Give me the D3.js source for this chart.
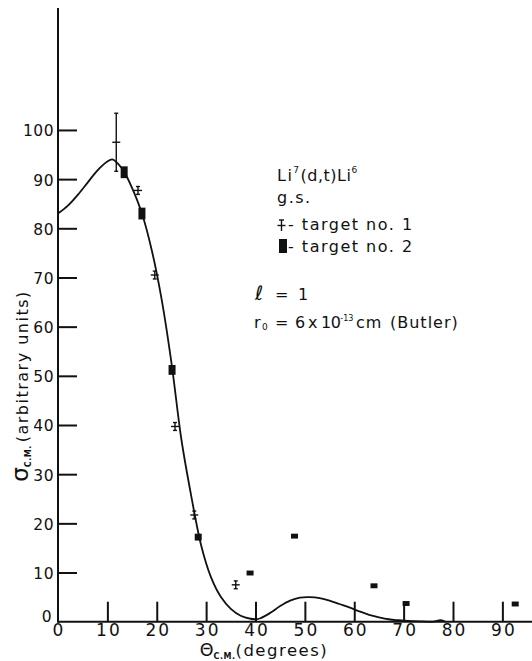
<!DOCTYPE html>
<html>
<head>
<meta charset="utf-8">
<script src="https://cdn.jsdelivr.net/npm/d3@7"></script>
<style>
  body { margin: 0; background: #fff; }
  svg { display: block; }
  text { font-family: "DejaVu Sans", sans-serif; fill: #111; }
  .axis path, .axis line { stroke: #111; stroke-width: 2; }
  .axis text { font-family: "DejaVu Sans", sans-serif; fill: #111; }
</style>
</head>
<body>
<svg width="532" height="661"></svg>
<script>
// fitted curve (Butler, l = 1)
const curveTheta = [0, 2, 4, 6, 8, 10, 11, 12, 13.5, 15, 17, 19, 21, 23, 25, 27, 29, 31, 33, 35, 37, 39, 40, 41, 43, 45, 47, 49, 51, 53, 55, 57, 59, 61, 63, 65, 67, 69, 71, 74, 76, 77.5, 78.5];
const curveSigma = [83, 84.6, 86.8, 89.3, 91.8, 93.6, 94, 93.3, 91.3, 88.2, 83, 75.5, 65.5, 52.5, 37, 25.5, 15.5, 9, 5, 2.6, 1.2, 0.6, 0.5, 0.7, 1.8, 3.2, 4.3, 4.9, 5, 4.8, 4.3, 3.6, 2.9, 2.1, 1.4, 0.9, 0.5, 0.3, 0.15, 0.05, 0, 0.3, 0];

// target no. 1 (crosses)
const t1Theta = [11.8, 16.2, 19.6, 23.7, 27.6, 36.0];
const t1Sigma = [97.5, 87.7, 70.5, 39.7, 21.7, 7.5];
const t1Err = [5.9, 0.8, 0.8, 0.8, 0.8, 0.8];

// target no. 2 (squares)
const t2Theta = [13.4, 17.0, 23.1, 28.4, 38.9, 47.9, 64.0, 70.5, 92.6];
const t2Sigma = [91.4, 83.0, 51.2, 17.2, 9.9, 17.4, 7.3, 3.7, 3.6];
const t2Err = [1.2, 1.2, 1.0, 0.7, 0.5, 0.5, 0.5, 0.5, 0.5];

const xTicks = [0, 10, 20, 30, 40, 50, 60, 70, 80, 90];
const yTicks = [0, 10, 20, 30, 40, 50, 60, 70, 80, 90, 100];

const svg = d3.select('svg');
const width = +svg.attr('width');
const height = +svg.attr('height');
const margin = {top: 8, right: 0, bottom: 39.3, left: 58};

const xScale = d3.scaleLinear()
  .domain([0, 96])
  .range([margin.left, width - margin.right]);

const yScale = d3.scaleLinear()
  .domain([0, 124.8])
  .range([height - margin.bottom, margin.top]);

//axes
const xAxis = svg.append('g')
  .attr('class', 'axis')
  .attr('transform', `translate(0, ${yScale(0)})`)
  .call(d3.axisBottom(xScale).tickValues(xTicks).tickFormat(d3.format('d'))
    .tickSizeInner(-20).tickSizeOuter(0).tickPadding(2));
xAxis.selectAll('text')
  .attr('font-size', 17)
  .attr('letter-spacing', 2)
  .attr('dx', 1);

const yAxis = svg.append('g')
  .attr('class', 'axis')
  .attr('transform', `translate(${xScale(0)}, 0)`)
  .call(d3.axisLeft(yScale).tickValues(yTicks).tickFormat(d3.format('d'))
    .tickSizeInner(-19).tickSizeOuter(0).tickPadding(4));
yAxis.selectAll('text')
  .attr('font-size', 15.5)
  .attr('letter-spacing', 0.5)
  .attr('dy', '0.38em');

//no tick marks at zero
xAxis.selectAll('.tick').filter(d => d === 0).select('line').remove();
yAxis.selectAll('.tick').filter(d => d === 0).select('line').remove();
yAxis.selectAll('.tick').filter(d => d === 0).select('text').attr('dy', '0em').attr('x', -6);
xAxis.selectAll('.tick').filter(d => d === 0).select('text').attr('dx', 0.5);
xAxis.select('.domain').attr('d', `M${xScale(0)},0H${width}`);
yAxis.select('.domain').attr('d', `M0,${yScale(0) + 1}V${margin.top}`);

//curve
const curve = curveTheta.map((t, i) => [t, curveSigma[i]]);
svg.append('path')
  .datum(curve)
  .attr('fill', 'none')
  .attr('stroke', '#111')
  .attr('stroke-width', 1.8)
  .attr('d', d3.line()
    .x(d => xScale(d[0]))
    .y(d => yScale(d[1]))
    .curve(d3.curveCatmullRom.alpha(0.5)));

//target no. 1 crosses
const t1 = t1Theta.map((t, i) => ({t: t, s: t1Sigma[i], e: t1Err[i]}));
const crosses = svg.append('g')
  .attr('stroke', '#111')
  .attr('stroke-width', 1.4)
  .selectAll('g')
  .data(t1)
  .enter()
  .append('g');
crosses.append('line')
  .attr('x1', d => xScale(d.t) - 4)
  .attr('x2', d => xScale(d.t) + 4)
  .attr('y1', d => yScale(d.s))
  .attr('y2', d => yScale(d.s));
crosses.append('line')
  .attr('x1', d => xScale(d.t))
  .attr('x2', d => xScale(d.t))
  .attr('y1', d => yScale(d.s + d.e))
  .attr('y2', d => yScale(d.s - d.e));
crosses.append('line')
  .attr('x1', d => xScale(d.t) - 2)
  .attr('x2', d => xScale(d.t) + 2)
  .attr('y1', d => yScale(d.s + d.e))
  .attr('y2', d => yScale(d.s + d.e));
crosses.append('line')
  .attr('x1', d => xScale(d.t) - 2)
  .attr('x2', d => xScale(d.t) + 2)
  .attr('y1', d => yScale(d.s - d.e))
  .attr('y2', d => yScale(d.s - d.e));

//target no. 2 squares
svg.append('g')
  .selectAll('rect')
  .data(t2Theta.map((t, i) => ({t: t, s: t2Sigma[i], e: t2Err[i]})))
  .enter()
  .append('rect')
    .attr('x', d => xScale(d.t) - 3.5)
    .attr('y', d => yScale(d.s + d.e))
    .attr('width', 7)
    .attr('height', d => yScale(d.s - d.e) - yScale(d.s + d.e))
    .attr('fill', '#111');

//axis titles
const yTitle = svg.append('text')
  .attr('transform', `translate(28, ${386}) rotate(-90)`)
  .attr('text-anchor', 'middle')
  .attr('font-size', 16)
  .attr('letter-spacing', 1.5);
yTitle.append('tspan').attr('font-size', 23).attr('letter-spacing', 0).text('σ');
yTitle.append('tspan').attr('font-size', 8).attr('font-weight', 'bold').attr('letter-spacing', 0.5).attr('dy', 3).text('C.M.');
yTitle.append('tspan').attr('dy', -3).attr('dx', 3).text('(arbitrary units)');

const xTitle = svg.append('text')
  .attr('x', 264)
  .attr('y', 656)
  .attr('text-anchor', 'middle')
  .attr('font-size', 16.5)
  .attr('letter-spacing', 1.5);
xTitle.append('tspan').attr('font-size', 17.5).attr('letter-spacing', 0).text('Θ');
xTitle.append('tspan').attr('font-size', 8).attr('font-weight', 'bold').attr('letter-spacing', 0.5).attr('dy', 3).text('C.M.');
xTitle.append('tspan').attr('dy', -3).text('(degrees)');

//legend / annotation
const note = svg.append('g').attr('font-size', 16).attr('letter-spacing', 1.5);

const line1 = note.append('text').attr('x', 277).attr('y', 181);
line1.append('tspan').text('Li');
line1.append('tspan').attr('font-size', 9).attr('dy', -8).text('7');
line1.append('tspan').attr('dy', 8).attr('letter-spacing', 0.5).text('(d,t)Li');
line1.append('tspan').attr('font-size', 9).attr('dy', -8).text('6');

note.append('text').attr('x', 277).attr('y', 203).text('g.s.');

//legend cross
const lx = 281.5, ly = 225.5;
const lc = note.append('g').attr('stroke', '#111').attr('stroke-width', 1.4);
lc.append('line').attr('x1', lx - 4).attr('x2', lx + 4).attr('y1', ly).attr('y2', ly);
lc.append('line').attr('x1', lx).attr('x2', lx).attr('y1', ly - 5.5).attr('y2', ly + 5.5);
lc.append('line').attr('x1', lx - 2.5).attr('x2', lx + 2.5).attr('y1', ly - 5.5).attr('y2', ly - 5.5);
note.append('text').attr('x', 288).attr('y', 230).text('- target no. 1');

note.append('rect').attr('x', 279).attr('y', 239).attr('width', 8).attr('height', 14).attr('fill', '#111');
note.append('text').attr('x', 288).attr('y', 252).text('- target no. 2');

const ell = note.append('text').attr('x', 255).attr('y', 300);
ell.append('tspan').attr('font-style', 'italic').attr('font-size', 20).text('ℓ');
ell.append('tspan').attr('x', 275).text('=');
ell.append('tspan').attr('x', 298).text('1');

const r0 = note.append('text').attr('x', 254).attr('y', 328);
r0.append('tspan').text('r');
r0.append('tspan').attr('font-size', 9).attr('dy', 2).text('0');
r0.append('tspan').attr('x', 275).attr('dy', -2).text('=');
r0.append('tspan').attr('x', 295).text('6');
r0.append('tspan').attr('x', 308).text('x');
r0.append('tspan').attr('x', 321).attr('letter-spacing', -0.5).text('10');
r0.append('tspan').attr('font-size', 8).attr('dy', -7).attr('letter-spacing', 0).text('-13');
r0.append('tspan').attr('x', 356).attr('dy', 7).attr('letter-spacing', 1).text('cm');
r0.append('tspan').attr('x', 390).attr('letter-spacing', 1).text('(Butler)');
</script>
</body>
</html>
